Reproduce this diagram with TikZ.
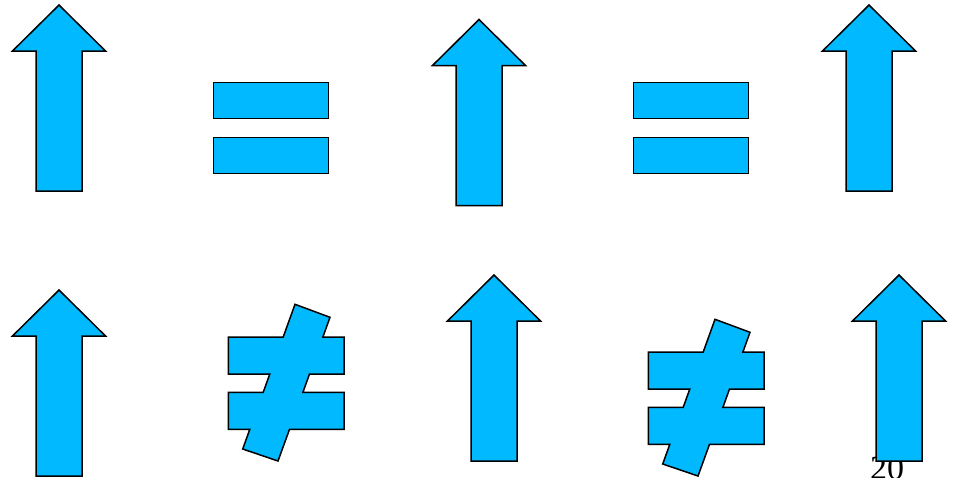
\documentclass[tikz,border=0pt]{standalone}
\usepackage{fontspec}
\setmainfont{Liberation Serif}
\definecolor{skyfill}{HTML}{00B9FF}

\begin{document}
\begin{tikzpicture}[x=1pt,y=-1pt,
    shapebox/.style={fill=skyfill, draw=black, line width=1.5pt, line join=miter}]

\clip (0,0) rectangle (955,477);

% Page number, partly hidden under the last arrow
\node[anchor=base west, inner sep=0pt, font=\fontsize{34}{40}\selectfont] (pagenum) at (870,479) {20};

% Up arrows (tip positions)
\foreach \tx/\ty in {59/5, 479/19.5, 869/5, 59/290, 494/275, 899/275} {
    \draw[shapebox] (\tx,\ty) -- ++(46.5,46) -- ++(-23.5,0) -- ++(0,140)
        -- ++(-46,0) -- ++(0,-140) -- ++(-23.5,0) -- cycle;
}

% Equal signs
\foreach \ex in {213.3, 633.3} {
    \draw[shapebox] (\ex,82.3) rectangle ++(115.4,36.4);
    \draw[shapebox] (\ex,137.3) rectangle ++(115.4,36.4);
}

% Not-equal signs
\foreach \sx/\sy in {0/0, 420/15} {
    \draw[shapebox, shift={(\sx,\sy)}] (295,304.3) -- (330,317.3) -- (322.9,337)
        -- (344,337) -- (344,374) -- (309.5,374) -- (302.9,392.3) -- (344,392.3)
        -- (344,429.3) -- (289.5,429.3) -- (278,461) -- (242.7,449) -- (249.8,429.3)
        -- (228.3,429.3) -- (228.3,392.3) -- (263.2,392.3) -- (269.8,374)
        -- (228.3,374) -- (228.3,337) -- (283.2,337) -- cycle;
}

\end{tikzpicture}
\end{document}
